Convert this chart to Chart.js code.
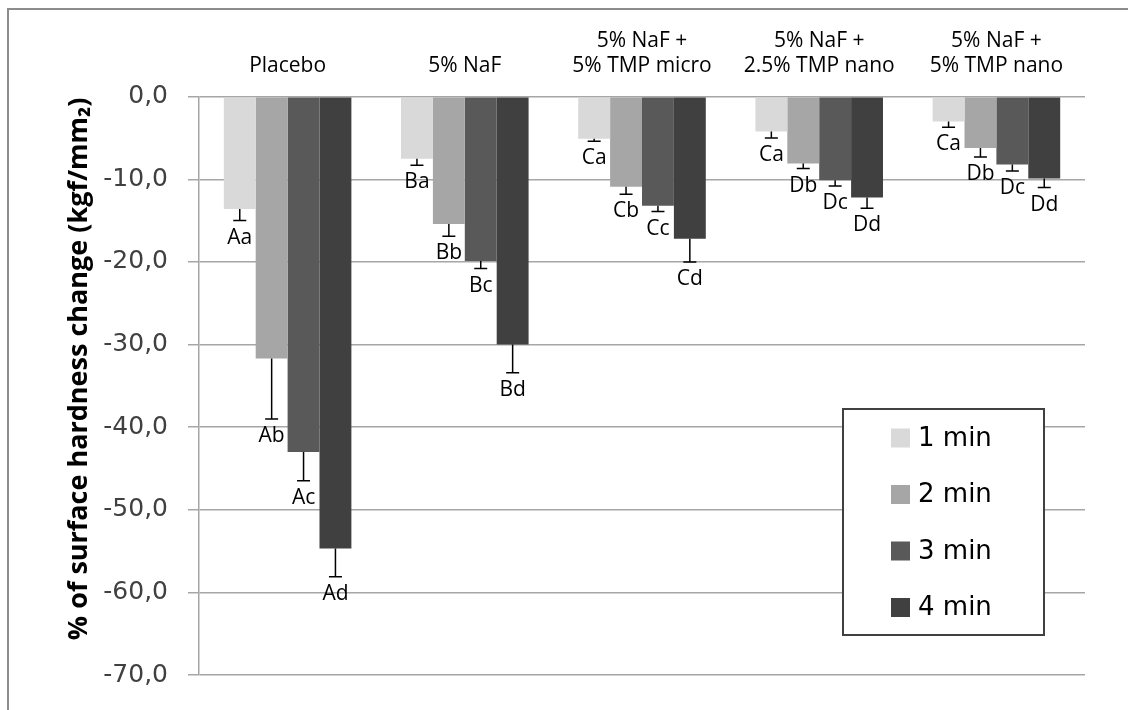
<!DOCTYPE html>
<html>
<head>
<meta charset="utf-8">
<script src="https://cdn.jsdelivr.net/npm/chart.js@4/dist/chart.umd.min.js"></script>
<style>
  html, body { margin: 0; padding: 0; background: #fff; }
  #wrap { position: relative; width: 1128px; height: 710px; overflow: hidden; }
  #frame { position: absolute; left: 7px; top: 8px; width: 1200px; height: 800px;
           border-top: 2px solid #8c8c8c; border-left: 2px solid #8c8c8c; }
  canvas { position: absolute; left: 0; top: 0; }
</style>
</head>
<body>
<div id="wrap">
  <div id="frame"></div>
  <canvas id="c" width="1128" height="710"></canvas>
</div>
<script>
// ---- data ----
const categories = [
  'Placebo',
  '5% NaF',
  ['5% NaF +', '5% TMP micro'],
  ['5% NaF +', '2.5% TMP nano'],
  ['5% NaF +', '5% TMP nano']
];
const seriesNames = ['1 min', '2 min', '3 min', '4 min'];
const min1 = [-13.6, -7.5, -5.1, -4.2, -3.0];
const min2 = [-31.7, -15.4, -10.9, -8.1, -6.2];
const min3 = [-43.0, -19.9, -13.2, -10.1, -8.2];
const min4 = [-54.7, -30.0, -17.2, -12.2, -9.9];
const err1 = [1.4, 0.8, 0.3, 0.8, 0.7];
const err2 = [7.3, 1.5, 0.9, 0.6, 1.1];
const err3 = [3.5, 0.9, 0.7, 0.7, 0.8];
const err4 = [3.4, 3.4, 2.8, 1.3, 1.1];
const letters1 = ['Aa', 'Ba', 'Ca', 'Ca', 'Ca'];
const letters2 = ['Ab', 'Bb', 'Cb', 'Db', 'Db'];
const letters3 = ['Ac', 'Bc', 'Cc', 'Dc', 'Dc'];
const letters4 = ['Ad', 'Bd', 'Cd', 'Dd', 'Dd'];
const yTicksMin = -70, yTicksMax = 0, yStep = 10;
const yTitle = '% of surface hardness change (kgf/mm\u2082)';

const seriesValues = [min1, min2, min3, min4];
const seriesErrors = [err1, err2, err3, err4];
const seriesLetters = [letters1, letters2, letters3, letters4];
const colors = ['#d9d9d9', '#a6a6a6', '#595959', '#404040'];
const FONT = "'Open Sans', 'Liberation Sans', sans-serif";
const WIDE = "'DejaVu Sans', 'Open Sans', sans-serif";

const errorBarPlugin = {
  id: 'errorBars',
  afterDatasetsDraw(chart) {
    const ctx = chart.ctx;
    const yScale = chart.scales.y;
    ctx.save();
    seriesValues.forEach((vals, i) => {
      const meta = chart.getDatasetMeta(i);
      meta.data.forEach((bar, j) => {
        const x = bar.x;
        const yEnd = yScale.getPixelForValue(vals[j] - seriesErrors[i][j]);
        ctx.strokeStyle = '#000';
        ctx.lineWidth = 1.5;
        ctx.beginPath();
        ctx.moveTo(x, bar.y);
        ctx.lineTo(x, yEnd);
        ctx.moveTo(x - 6.5, yEnd);
        ctx.lineTo(x + 6.5, yEnd);
        ctx.stroke();
        ctx.fillStyle = '#000';
        ctx.font = '21px ' + FONT;
        ctx.textAlign = 'center';
        ctx.textBaseline = 'alphabetic';
        ctx.fillText(seriesLetters[i][j], x, yEnd + 23);
      });
    });
    ctx.restore();
  }
};

const yTitlePlugin = {
  id: 'yTitle',
  afterDraw(chart) {
    const ctx = chart.ctx;
    const ca = chart.chartArea;
    ctx.save();
    ctx.translate(79, (ca.top + ca.bottom) / 2 - 17);
    ctx.rotate(-Math.PI / 2);
    ctx.font = 'bold 27px ' + FONT;
    ctx.fillStyle = '#000';
    ctx.textAlign = 'center';
    ctx.textBaseline = 'middle';
    ctx.fillText(yTitle, 0, 0);
    ctx.restore();
  }
};

const legendPlugin = {
  id: 'boxLegend',
  afterDraw(chart) {
    const ctx = chart.ctx;
    const ca = chart.chartArea;
    const bx = ca.right - 242, by = 409, bw = 201, bh = 226;
    ctx.save();
    ctx.fillStyle = '#fff';
    ctx.fillRect(bx, by, bw, bh);
    ctx.strokeStyle = '#404040';
    ctx.lineWidth = 2;
    ctx.strokeRect(bx, by, bw, bh);
    chart.data.datasets.forEach((ds, i) => {
      const cy = by + 29 + i * 56.5;
      ctx.fillStyle = ds.backgroundColor;
      ctx.fillRect(bx + 48, cy - 9.5, 19, 19);
      ctx.fillStyle = '#000';
      ctx.font = '26px ' + WIDE;
      ctx.textAlign = 'left';
      ctx.textBaseline = 'middle';
      ctx.fillText(ds.label, bx + 75, cy + 1);
    });
    ctx.restore();
  }
};

new Chart(document.getElementById('c'), {
  type: 'bar',
  data: {
    labels: categories,
    datasets: seriesValues.map((vals, i) => ({
      label: seriesNames[i],
      data: vals,
      backgroundColor: colors[i],
      borderWidth: 0,
      barPercentage: 1.0,
      categoryPercentage: 0.72
    }))
  },
  options: {
    responsive: false,
    devicePixelRatio: 1,
    animation: false,
    layout: { padding: { left: 0, top: 0, right: 43, bottom: 30 } },
    plugins: { legend: { display: false }, tooltip: { enabled: false } },
    scales: {
      x: {
        position: 'top',
        grid: { display: false, drawTicks: false },
        border: { display: false },
        ticks: {
          font: { family: FONT, size: 21 },
          color: '#000',
          padding: 18,
          maxRotation: 0,
          autoSkip: false
        },
        afterFit(s) { s.height = 96.7; }
      },
      y: {
        min: yTicksMin,
        max: yTicksMax,
        grid: { color: '#a6a6a6', lineWidth: 1.5, tickLength: 11 },
        border: { color: '#a6a6a6', width: 1.5 },
        ticks: {
          stepSize: yStep,
          font: { family: WIDE, size: 25 },
          color: '#404040',
          padding: 20,
          callback: v => v.toFixed(1).replace('.', ',')
        },
        title: { display: false },
        afterFit(s) { s.width = 199; }
      }
    }
  },
  plugins: [errorBarPlugin, yTitlePlugin, legendPlugin]
});
</script>
</body>
</html>
